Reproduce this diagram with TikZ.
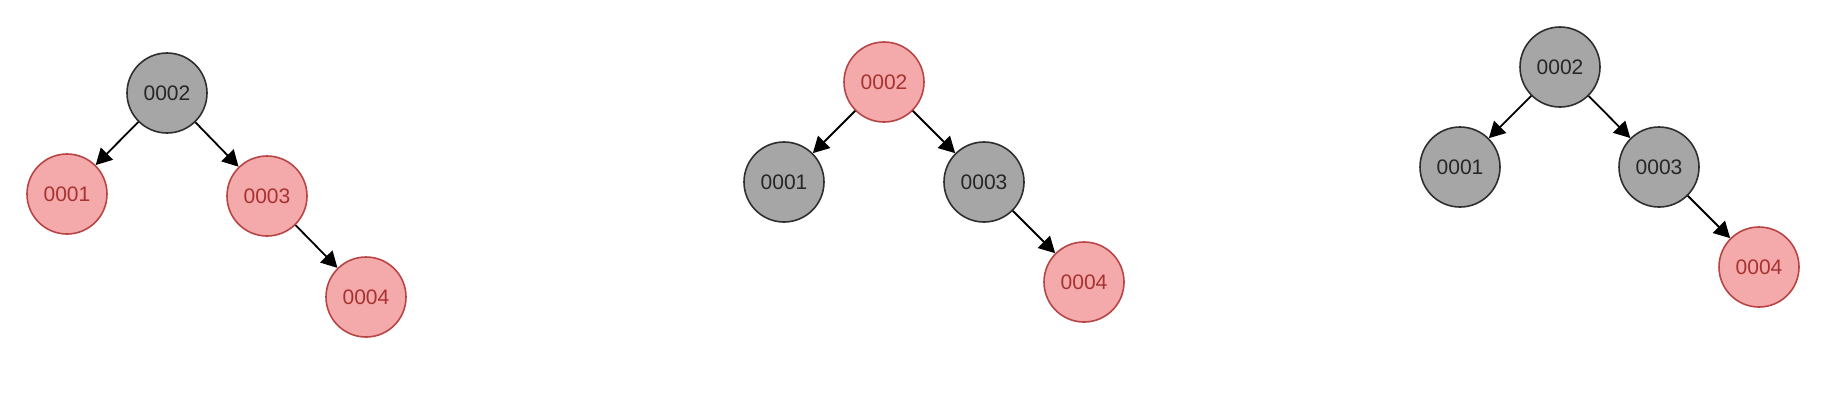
\documentclass[tikz,border=0pt]{standalone}
\usepackage{fontspec}
\setmainfont{Liberation Sans}
\usetikzlibrary{arrows.meta}
\definecolor{blkfill}{HTML}{A6A6A6}
\definecolor{blkdraw}{HTML}{2E2E2E}
\definecolor{redfill}{HTML}{F4AAAA}
\definecolor{reddraw}{HTML}{B84545}
\definecolor{redtext}{HTML}{A83232}
\tikzset{
  nd/.style={circle, minimum size=40pt, inner sep=0pt, line width=0.8pt, font=\fontsize{10.5}{12}\selectfont},
  blk/.style={nd, fill=blkfill, draw=blkdraw, text=black!85},
  rd/.style={nd, fill=redfill, draw=reddraw, text=redtext},
  edge/.style={line width=0.9pt, -{Triangle[length=8pt,width=8.5pt]}, black}
}
\begin{document}
\begin{tikzpicture}[x=0.5pt,y=-0.5pt]
\useasboundingbox (0,0) rectangle (1842,404);
% tree 1
\node[blk] (a2) at (167,93) {0002};
\node[rd]  (a1) at (67,194) {0001};
\node[rd]  (a3) at (267,196) {0003};
\node[rd]  (a4) at (366,297) {0004};
\draw[edge] (a2) -- (a1);
\draw[edge] (a2) -- (a3);
\draw[edge] (a3) -- (a4);
% tree 2
\node[rd]  (b2) at (884,82) {0002};
\node[blk] (b1) at (784,182) {0001};
\node[blk] (b3) at (984,182) {0003};
\node[rd]  (b4) at (1084,282) {0004};
\draw[edge] (b2) -- (b1);
\draw[edge] (b2) -- (b3);
\draw[edge] (b3) -- (b4);
% tree 3
\node[blk] (c2) at (1560,67) {0002};
\node[blk] (c1) at (1460,167) {0001};
\node[blk] (c3) at (1659,167) {0003};
\node[rd]  (c4) at (1759,267) {0004};
\draw[edge] (c2) -- (c1);
\draw[edge] (c2) -- (c3);
\draw[edge] (c3) -- (c4);
\end{tikzpicture}
\end{document}
